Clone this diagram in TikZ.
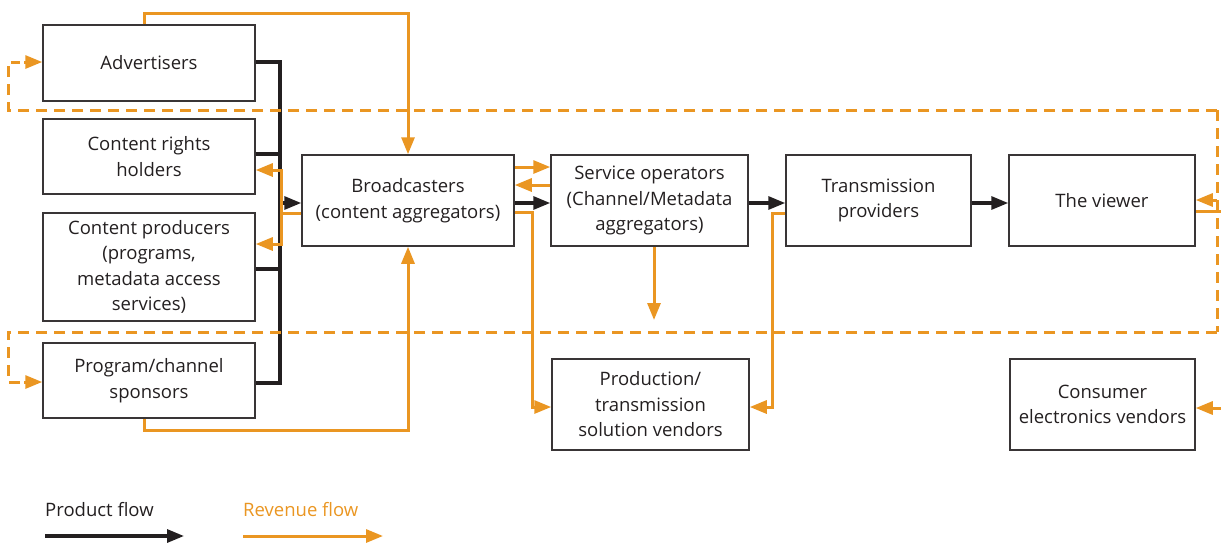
\documentclass[tikz,border=0pt]{standalone}
\usepackage{fontspec}
\setmainfont{Open Sans}
\usetikzlibrary{arrows.meta,calc}
\definecolor{rev}{RGB}{234,150,34}
\definecolor{ink}{RGB}{35,31,32}
\tikzset{
  box/.style={draw=ink!90, line width=1.5pt, align=center, inner sep=0pt,
    text=ink, font=\fontsize{18.5}{25.5}\selectfont},
  prod/.style={draw=ink, line width=3.2pt},
  revl/.style={draw=rev, line width=3pt},
  dashrev/.style={draw=rev, line width=3pt, dash pattern=on 11pt off 7pt},
  tip/.style={-{Triangle[length=17pt,width=13pt]}},
  lab/.style={anchor=west, inner sep=0pt, font=\fontsize{18.5}{22}\selectfont}
}
\begin{document}
\begin{tikzpicture}[x=1pt,y=-1pt]
\useasboundingbox (0,0) rectangle (1221,542);
% boxes
\node[box, minimum width=212pt, minimum height=76pt] (adv) at (149,63) {Advertisers};
\node[box, minimum width=212pt, minimum height=75pt] (crh) at (149,156.5) {Content rights\\holders};
\node[box, minimum width=212pt, minimum height=108pt] (cp) at (149,267) {Content producers\\(programs,\\metadata access\\services)};
\node[box, minimum width=212pt, minimum height=75pt] (pcs) at (149,380.5) {Program/channel\\sponsors};
\node[box, minimum width=212pt, minimum height=91pt] (bc) at (408,200.5) {Broadcasters\\(content aggregators)};
\node[box, minimum width=197pt, minimum height=91pt] (so) at (649.5,200.5) {Service operators\\(Channel/Metadata\\aggregators)};
\node[box, minimum width=185pt, minimum height=91pt] (tp) at (878.5,200.5) {Transmission\\providers};
\node[box, minimum width=186pt, minimum height=91pt] (tv) at (1102,200.5) {The viewer};
\node[box, minimum width=197pt, minimum height=91pt] (ptv) at (650.5,404.5) {Production/\\transmission\\solution vendors};
\node[box, minimum width=185pt, minimum height=91pt] (cev) at (1102.5,404.5) {Consumer\\electronics vendors};
% helper coordinates
\coordinate (busx) at (280,0);
\coordinate (oj) at (281,213);
\coordinate (dl1) at (8,110);
\coordinate (dl2) at (8,332);
\coordinate (dr1) at (1217,110);
\coordinate (dr2) at (1217,332);
\coordinate (edge) at (1221,0);
\coordinate (soend) at (654,320);
% product flow
\draw[prod] (adv.east |- 0,62) -- (busx |- 0,62) -- (busx |- 0,383) -- (pcs.east |- 0,383);
\draw[prod] (crh.east |- 0,154) -- (busx |- 0,154);
\draw[prod] (cp.east |- 0,269) -- (busx |- 0,269);
\draw[prod,tip] (busx |- 0,203) -- (bc.west |- 0,203);
\draw[prod,tip] (bc.east |- 0,203) -- (so.west |- 0,203);
\draw[prod,tip] (so.east |- 0,203) -- (tp.west |- 0,203);
\draw[prod,tip] (tp.east |- 0,203) -- (tv.west |- 0,203);
% revenue flow
\draw[revl] (bc.west |- oj) -- (oj);
\draw[revl,tip] (oj) |- (crh.east |- 0,170);
\draw[revl,tip] (oj) |- (cp.east |- 0,244);
\draw[revl,tip] ([xshift=-5pt]adv.north) -- ++(0,-11) -| (bc.north);
\draw[revl,tip] ([xshift=-5pt]pcs.south) -- ++(0,12) -| (bc.south);
\draw[revl,tip] (bc.east |- 0,167) -- (so.west |- 0,167);
\draw[revl,tip] (so.west |- 0,185) -- (bc.east |- 0,185);
\draw[revl,tip] (bc.east |- 0,212) -- (532,212) |- (ptv.west |- 0,407);
\draw[revl,tip] (so.south -| soend) -- (soend);
\draw[revl,tip] (tp.west |- 0,213) -- (772,213) |- (ptv.east |- 0,407);
% dashed revenue loop
\draw[dashrev] (dr1) -- (dl1) -- (dl1 |- 0,62) -- ++(12,0);
\draw[revl,tip] (24,62) -- (adv.west |- 0,62);
\draw[dashrev] (dr2) -- (dl2) -- (dl2 |- 0,382) -- ++(12,0);
\draw[revl,tip] (24,382) -- (pcs.west |- 0,382);
\draw[dashrev] (dr1) -- (dr2);
\draw[revl,tip] (dr1 |- 0,200) -- (tv.east |- 0,200);
\draw[revl] (tv.east |- 0,211) -- (edge |- 0,211);
\draw[revl,tip] (edge |- 0,408) -- (cev.east |- 0,408);
% legend
\node[lab, text=ink] (lp) at (45,510) {Product flow};
\node[lab, text=rev] (lr) at (243,510) {Revenue flow};
\coordinate (lp1) at (45,536);
\coordinate (lp2) at (184,536);
\coordinate (lr1) at (243,536);
\coordinate (lr2) at (383,536);
\draw[prod,tip] (lp1) -- (lp2);
\draw[revl,tip] (lr1) -- (lr2);
\end{tikzpicture}
\end{document}
